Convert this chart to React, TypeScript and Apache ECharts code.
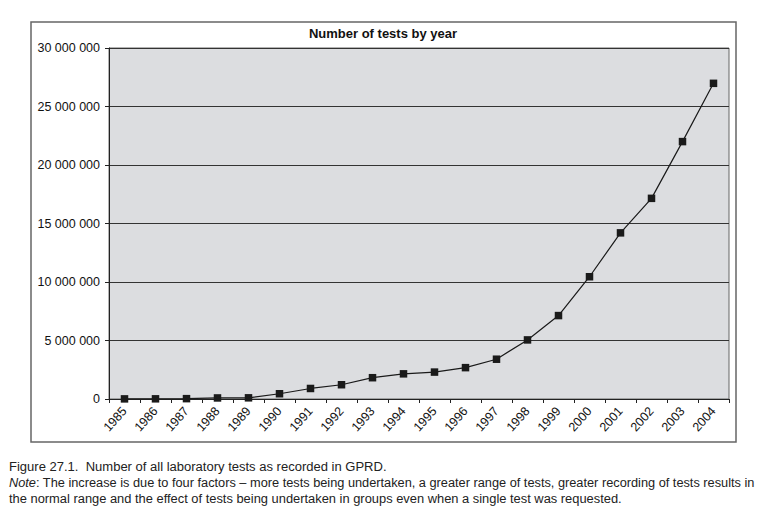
import React, { useEffect, useRef } from "react";
import * as echarts from "echarts";

const years = [
  "1985", "1986", "1987", "1988", "1989", "1990", "1991", "1992", "1993", "1994",
  "1995", "1996", "1997", "1998", "1999", "2000", "2001", "2002", "2003", "2004",
];
const tests = [
  10000, 15000, 30000, 90000, 100000, 450000, 900000, 1220000, 1820000, 2150000,
  2300000, 2680000, 3400000, 5050000, 7130000, 10450000, 14200000, 17150000, 22000000, 26980000,
];
const chartTitle = "Number of tests by year";
const captionLine1 = "Figure 27.1.  Number of all laboratory tests as recorded in GPRD.";
const noteWord = "Note";
const captionLine2 =
  ": The increase is due to four factors \u2013 more tests being undertaken, a greater range of tests, greater recording of tests results in";
const captionLine3 =
  "the normal range and the effect of tests being undertaken in groups even when a single test was requested.";

function fmt(v: number): string {
  return String(v).replace(/\B(?=(\d{3})+(?!\d))/g, " ");
}

export default function App() {
  const ref = useRef<HTMLDivElement>(null);
  useEffect(() => {
    if (!ref.current) return;
    const chart = echarts.init(ref.current, undefined, { renderer: "svg" });
    const sans = "Liberation Sans, Arial, sans-serif";
    const capFont = "Liberation Sans, Arial, sans-serif";
    const capSize = 13.5;

    const cv = document.createElement("canvas");
    const ctx = cv.getContext("2d");
    const measure = (t: string, italic = false) => {
      if (!ctx) return t.length * 6;
      ctx.font = (italic ? "italic " : "") + capSize + "px " + capFont;
      return ctx.measureText(t).width;
    };
    const w1 = measure(captionLine1);
    const w2 = measure(noteWord, true) + measure(captionLine2);
    const w3 = measure(captionLine3);
    const s1 = 378 / w1;
    const s2 = 747 / w2;
    const s3 = 613 / w3;

    chart.setOption({
      animation: false,
      backgroundColor: "#ffffff",
      textStyle: { fontFamily: sans },
      grid: {
        left: 109,
        top: 48,
        right: 42,
        bottom: 120,
        show: true,
        backgroundColor: "#dcdde0",
        borderColor: "#666",
        borderWidth: 1,
      },
      xAxis: {
        type: "category",
        data: years,
        boundaryGap: true,
        axisLine: { show: true, lineStyle: { color: "#222", width: 1 } },
        axisTick: { show: true, length: 4, alignWithLabel: false, lineStyle: { color: "#222" } },
        axisLabel: {
          rotate: 48,
          fontSize: 12.5,
          color: "#111",
          margin: 10,
          interval: 0,
          fontFamily: sans,
        },
        splitLine: { show: false },
      },
      yAxis: {
        type: "value",
        min: 0,
        max: 30000000,
        interval: 5000000,
        axisLine: { show: true, lineStyle: { color: "#222", width: 1 } },
        axisTick: { show: true, length: 4, lineStyle: { color: "#222" } },
        axisLabel: {
          formatter: (v: number) => fmt(v),
          fontSize: 12.5,
          color: "#111",
          margin: 9,
          fontFamily: sans,
        },
        splitLine: { show: true, lineStyle: { color: "#333", width: 1 } },
      },
      series: [
        {
          type: "line",
          data: tests,
          symbol: "rect",
          symbolSize: 7.5,
          itemStyle: { color: "#1a1a1a" },
          lineStyle: { color: "#1a1a1a", width: 1.2 },
        },
      ],
      graphic: [
        {
          type: "rect",
          shape: { x: 31, y: 22, width: 705, height: 420 },
          style: { fill: "none", stroke: "#666", lineWidth: 1.5 },
          silent: true,
          z: 0,
        },
        {
          type: "text",
          x: 383,
          y: 33,
          style: {
            text: chartTitle,
            fontSize: 13,
            fontWeight: "bold",
            fill: "#111",
            align: "center",
            verticalAlign: "middle",
            fontFamily: sans,
          },
        },
        {
          type: "text",
          x: 9,
          y: 466,
          scaleX: s1,
          style: {
            text: captionLine1,
            fontSize: capSize,
            fill: "#222",
            verticalAlign: "middle",
            fontFamily: capFont,
          },
        },
        {
          type: "text",
          x: 9,
          y: 482,
          scaleX: s2,
          style: {
            text: "{i|" + noteWord + "}" + captionLine2,
            fontSize: capSize,
            fill: "#222",
            verticalAlign: "middle",
            fontFamily: capFont,
            rich: {
              i: { fontStyle: "italic", fontSize: capSize, fill: "#222", fontFamily: capFont },
            },
          },
        },
        {
          type: "text",
          x: 9,
          y: 498,
          scaleX: s3,
          style: {
            text: captionLine3,
            fontSize: capSize,
            fill: "#222",
            verticalAlign: "middle",
            fontFamily: capFont,
          },
        },
      ],
    });
    return () => chart.dispose();
  }, []);
  return (
    <div
      ref={ref}
      style={{ position: "fixed", left: 0, top: 0, width: 771, height: 519 }}
    />
  );
}
